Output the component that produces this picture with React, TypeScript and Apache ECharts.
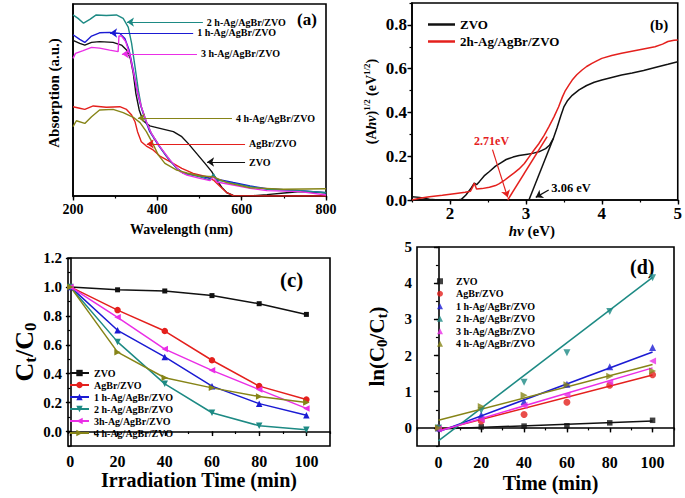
import React, { useEffect, useRef } from 'react';
import * as echarts from 'echarts';

const FONT = '"Liberation Serif", "Times New Roman", serif';
const COLORS = ['#111111', '#e4201d', '#1b1bd3', '#1d8a84', '#ea2ee6', '#868417'];
const SYMBOLS = ['rect', 'circle', 'triangle', 'triangle', 'triangle', 'triangle'];
const SYMBOL_ROT = [0, 0, 0, 180, 90, -90];

// ---------- Panel (a): UV-vis absorption ----------
const aLabels = ['ZVO', 'AgBr/ZVO', '1 h-Ag/AgBr/ZVO', '2 h-Ag/AgBr/ZVO', '3 h-Ag/AgBr/ZVO', '4 h-Ag/AgBr/ZVO'];
const aZVO = [[200,0.81],[216,0.795],[228,0.786],[244,0.8],[263,0.804],[295,0.8],[315,0.786],[327,0.76],[336,0.717],[343,0.639],[349,0.535],[357,0.448],[366,0.392],[382,0.365],[406,0.352],[438,0.335],[458,0.309],[473,0.274],[493,0.222],[513,0.17],[529,0.127],[541,0.083],[553,0.045],[565,0.017],[580,0.003],[620,0],[660,0.007],[707,0.017],[739,0.023],[800,0.017]];
const aAgBr = [[200,0.465],[216,0.457],[228,0.451],[248,0.469],[279,0.462],[311,0.465],[327,0.451],[339,0.422],[347,0.387],[353,0.335],[362,0.283],[374,0.26],[390,0.24],[406,0.208],[430,0.179],[458,0.144],[485,0.118],[517,0.1],[533,0.083],[549,0.049],[565,0.017],[580,0.002],[660,0],[800,0]];
const a1h = [[200,0.84],[216,0.816],[228,0.8],[244,0.833],[263,0.85],[287,0.852],[311,0.847],[323,0.82],[333,0.76],[343,0.656],[351,0.56],[359,0.483],[370,0.405],[382,0.335],[402,0.266],[422,0.205],[446,0.144],[462,0.12],[501,0.104],[525,0.092],[533,0.108],[541,0.088],[580,0.07],[620,0.052],[660,0.038],[739,0.028],[800,0.017]];
const a2h = [[200,0.943],[212,0.925],[225,0.9],[240,0.92],[255,0.943],[279,0.94],[303,0.943],[319,0.925],[331,0.88],[339,0.795],[347,0.674],[355,0.55],[362,0.465],[374,0.387],[386,0.326],[406,0.257],[426,0.196],[446,0.144],[462,0.118],[501,0.1],[525,0.083],[533,0.115],[541,0.083],[580,0.066],[620,0.049],[660,0.035],[739,0.028],[800,0.017]];
const a3h = [[200,0.717],[206,0.743],[224,0.757],[244,0.774],[263,0.77],[287,0.76],[307,0.752],[309,0.833],[315,0.833],[325,0.804],[335,0.734],[343,0.648],[353,0.543],[362,0.465],[374,0.387],[386,0.326],[406,0.257],[430,0.188],[454,0.127],[470,0.109],[501,0.092],[525,0.08],[533,0.1],[541,0.073],[580,0.057],[620,0.04],[660,0.028],[739,0.023],[800,0.005]];
const a4h = [[200,0.361],[208,0.392],[228,0.378],[244,0.413],[263,0.448],[295,0.451],[319,0.434],[343,0.41],[359,0.382],[374,0.335],[389,0.274],[402,0.214],[418,0.17],[446,0.135],[470,0.12],[501,0.104],[533,0.1],[565,0.07],[620,0.043],[699,0.035],[800,0.038]];
const aData = [aZVO, aAgBr, a1h, a2h, a3h, a4h];
// annotation arrows: tip on the curve, tail next to the label
const aArrowTip = [[518,0.177],[375,0.271],[288,0.849],[328,0.906],[316,0.74],[354,0.406]];
const aArrowTail = [[608,0.177],[608,0.271],[485,0.849],[508,0.906],[494,0.74],[577,0.406]];

// ---------- Panel (b): Tauc plot ----------
const bLabels = ['ZVO', '2h-Ag/AgBr/ZVO'];
const bZVO = [[1.5,0.015],[1.6,0.012],[1.73,0.004],[1.85,0],[2.1,0],[2.15,0.003],[2.21,0.023],[2.27,0.05],[2.32,0.077],[2.35,0.07],[2.39,0.085],[2.45,0.11],[2.52,0.13],[2.6,0.155],[2.67,0.17],[2.74,0.185],[2.83,0.196],[2.91,0.203],[3.0,0.208],[3.09,0.213],[3.17,0.22],[3.26,0.235],[3.31,0.25],[3.36,0.28],[3.41,0.33],[3.46,0.385],[3.5,0.425],[3.55,0.455],[3.61,0.478],[3.7,0.503],[3.8,0.523],[3.9,0.538],[4.0,0.548],[4.13,0.56],[4.26,0.571],[4.4,0.58],[4.55,0.592],[4.74,0.609],[4.87,0.62],[5.0,0.632]];
const bAg = [[1.5,0],[1.6,0.008],[1.73,0.015],[1.9,0.022],[2.08,0.03],[2.2,0.035],[2.27,0.04],[2.3,0.06],[2.32,0.077],[2.35,0.05],[2.42,0.052],[2.52,0.058],[2.6,0.066],[2.65,0.075],[2.71,0.088],[2.78,0.107],[2.85,0.125],[2.91,0.142],[2.98,0.167],[3.04,0.196],[3.1,0.225],[3.17,0.257],[3.24,0.295],[3.3,0.333],[3.37,0.38],[3.43,0.425],[3.48,0.47],[3.52,0.5],[3.57,0.527],[3.61,0.548],[3.67,0.572],[3.74,0.594],[3.8,0.61],[3.87,0.624],[3.94,0.637],[4.0,0.647],[4.13,0.66],[4.26,0.67],[4.48,0.685],[4.7,0.7],[4.8,0.712],[4.87,0.724],[4.95,0.73],[5.0,0.731]];
const bTangentZVO = [[3.04,0],[3.36,0.28]];
const bTangentAg = [[2.76,0],[3.28,0.29]];
const bArrowZVO = [[3.3,0.046],[3.13,0.012]];
const bArrowAg = [[2.56,0.23],[2.76,0.012]];
const bGapLabels = ['3.06 eV', '2.71eV'];

// ---------- Panel (c): degradation ----------
const times = [0, 20, 40, 60, 80, 100];
const cLabels = ['ZVO', 'AgBr/ZVO', '1 h-Ag/AgBr/ZVO', '2 h-Ag/AgBr/ZVO', '3h-Ag/AgBr/ZVO', '4 h-Ag/AgBr/ZVO'];
const cZVO = [1.0, 0.98, 0.972, 0.94, 0.884, 0.81];
const cAgBr = [1.0, 0.84, 0.695, 0.493, 0.314, 0.221];
const c1h = [1.0, 0.70, 0.516, 0.314, 0.193, 0.112];
const c2h = [1.0, 0.62, 0.33, 0.13, 0.04, 0.012];
const c3h = [1.0, 0.79, 0.57, 0.423, 0.29, 0.16];
const c4h = [1.0, 0.549, 0.372, 0.302, 0.242, 0.2];
const cData = [cZVO, cAgBr, c1h, c2h, c3h, c4h];

// ---------- Panel (d): kinetics ----------
const dLabels = ['ZVO', 'AgBr/ZVO', '1 h-Ag/AgBr/ZVO', '2 h-Ag/AgBr/ZVO', '3 h-Ag/AgBr/ZVO', '4 h-Ag/AgBr/ZVO'];
const dZVO = [0, 0.03, 0.05, 0.06, 0.14, 0.21];
const dAgBr = [0, 0.19, 0.37, 0.71, 1.18, 1.47];
const d1h = [0, 0.36, 0.73, 1.21, 1.69, 2.22];
const d2h = [0, 0.48, 1.26, 2.08, 3.22, 4.15];
const d3h = [-0.03, 0.23, 0.62, 0.91, 1.26, 1.85];
const d4h = [0, 0.59, 0.9, 1.19, 1.43, 1.57];
const dData = [dZVO, dAgBr, d1h, d2h, d3h, d4h];
const dFitStart = [-0.03, -0.07, -0.11, -0.36, -0.09, 0.21];
const dFitEnd = [0.19, 1.46, 2.1, 4.16, 1.66, 1.75];

const txt = (size: number, extra: any = {}) => ({
  color: '#000', fontFamily: FONT, fontWeight: 'bold', fontSize: size, ...extra,
});
const AXIS_LINE = { show: true, lineStyle: { color: '#000', width: 1.6 } };
const MAJOR_TICK = { show: true, inside: false, length: 4.5, lineStyle: { color: '#000', width: 1.4 } };
const MINOR_TICK = { show: true, inside: false, length: 2.5, lineStyle: { color: '#000', width: 1.2 } };
const NO_SPLIT = { show: false };

function minorAxis(gridIndex: number, position: string, range: any) {
  return {
    type: 'value', gridIndex, position, ...range,
    axisLine: { show: false }, axisTick: MINOR_TICK, axisLabel: { show: false },
    splitLine: NO_SPLIT, silent: true,
  };
}

function buildOption() {
  const grids = [
    { left: 73, top: 4, width: 253, height: 192 },
    { left: 412, top: 3, width: 268, height: 197 },
    { left: 68, top: 258, width: 262, height: 188 },
    { left: 417, top: 247, width: 257, height: 199 },
  ].map((g) => ({ ...g, show: true, borderColor: '#000', borderWidth: 1.6, backgroundColor: 'transparent' }));

  const xAxis = [
    {
      type: 'value', gridIndex: 0, min: 200, max: 800, interval: 200,
      axisLine: AXIS_LINE, axisTick: MAJOR_TICK, splitLine: NO_SPLIT,
      axisLabel: txt(14, { margin: 6 }),
      name: 'Wavelength (nm)', nameLocation: 'middle', nameGap: 26,
      nameTextStyle: txt(14, { padding: [0, 36, 0, 0] }),
    },
    minorAxis(0, 'bottom', { min: 200, max: 800, interval: 100 }),
    {
      type: 'value', gridIndex: 1, min: 1.5, max: 5, splitNumber: 4,
      axisLine: AXIS_LINE, axisTick: MAJOR_TICK, splitLine: NO_SPLIT,
      axisLabel: txt(17, { margin: 5, showMinLabel: false }),
      name: '{i|hv}{b| (eV)}', nameLocation: 'middle', nameGap: 23,
      nameTextStyle: {
        padding: [0, 26, 0, 0],
        rich: { i: txt(15, { fontStyle: 'italic' }), b: txt(15) },
      },
    },
    minorAxis(1, 'bottom', { min: 1.5, max: 5, interval: 0.5 }),
    {
      type: 'value', gridIndex: 2, min: -1, max: 110, splitNumber: 5,
      axisLine: AXIS_LINE, axisTick: MAJOR_TICK, splitLine: NO_SPLIT,
      axisLabel: txt(16, { margin: 7, showMinLabel: false, showMaxLabel: false }),
      name: 'Irradiation Time (min)', nameLocation: 'middle', nameGap: 22,
      nameTextStyle: txt(20),
    },
    minorAxis(2, 'bottom', { min: -1, max: 110, splitNumber: 11 }),
    {
      type: 'value', gridIndex: 3, min: -10, max: 110, splitNumber: 5,
      axisLine: AXIS_LINE, axisTick: MAJOR_TICK, splitLine: NO_SPLIT,
      axisLabel: txt(16, { margin: 8, showMinLabel: false, showMaxLabel: false }),
      name: 'Time (min)', nameLocation: 'middle', nameGap: 27,
      nameTextStyle: txt(20, { padding: [0, 0, 0, 10] }),
    },
    minorAxis(3, 'bottom', { min: -10, max: 110, interval: 10 }),
  ];

  const yAxis = [
    {
      type: 'value', gridIndex: 0, min: 0, max: 1,
      axisLine: AXIS_LINE, axisTick: { show: false }, axisLabel: { show: false }, splitLine: NO_SPLIT,
      name: 'Absorption (a.u.)', nameLocation: 'middle', nameGap: 12,
      nameTextStyle: txt(15, { padding: [0, 0, 0, 14] }),
    },
    {
      type: 'value', gridIndex: 1, min: 0, max: 0.9, interval: 0.2,
      axisLine: AXIS_LINE, axisTick: MAJOR_TICK, splitLine: NO_SPLIT,
      axisLabel: txt(17, { margin: 5, showMaxLabel: false, formatter: (v: number) => v.toFixed(1) }),
      name: '{b|(A}{i|hv}{b|)}{p|1/2}{b| (eV}{p|1/2}{b|)}', nameLocation: 'middle', nameGap: 32,
      nameTextStyle: {
        rich: {
          b: txt(14), i: txt(14, { fontStyle: 'italic' }),
          p: txt(9, { padding: [0, 0, 9, 0] }),
        },
      },
    },
    minorAxis(1, 'left', { min: 0, max: 0.9, interval: 0.1 }),
    {
      type: 'value', gridIndex: 2, min: -0.1, max: 1.2, splitNumber: 6,
      axisLine: AXIS_LINE, axisTick: MAJOR_TICK, splitLine: NO_SPLIT,
      axisLabel: txt(15, { margin: 6, showMinLabel: false, formatter: (v: number) => v.toFixed(1) }),
      name: '{b|C}{s|t}{b|/C}{s|0}', nameLocation: 'middle', nameGap: 29,
      nameTextStyle: {
        rich: { b: txt(26), s: txt(17, { padding: [12, 0, 0, 0] }) },
      },
    },
    minorAxis(2, 'left', { min: -0.1, max: 1.2, interval: 0.1 }),
    {
      type: 'value', gridIndex: 3, min: -0.5, max: 5, splitNumber: 5,
      axisLine: AXIS_LINE, axisTick: MAJOR_TICK, splitLine: NO_SPLIT,
      axisLabel: txt(15, { margin: 5, showMinLabel: false }),
      name: '{b|ln(C}{s|0}{b|/C}{s|t}{b|)}', nameLocation: 'middle', nameGap: 28,
      nameTextStyle: {
        rich: { b: txt(21), s: txt(15, { padding: [10, 0, 0, 0] }) },
      },
    },
    minorAxis(3, 'left', { min: -0.5, max: 5, interval: 0.5 }),
  ];

  const series: any[] = [];

  // (a)
  aData.forEach((d, i) => {
    series.push({
      type: 'line', name: 'a:' + aLabels[i], xAxisIndex: 0, yAxisIndex: 0,
      data: d, symbol: 'none', silent: true,
      lineStyle: { color: COLORS[i], width: 1.4 },
      markLine: {
        silent: true, symbol: ['arrow', 'none'], symbolSize: 7,
        lineStyle: { color: COLORS[i], width: 1.2, type: 'solid' },
        label: { show: true, position: 'end', formatter: aLabels[i], distance: 4, ...txt(10) },
        data: [[{ coord: aArrowTip[i] }, { coord: aArrowTail[i] }]],
      },
    });
  });

  // (b)
  const bSets = [
    { data: bZVO, color: COLORS[0], tangent: bTangentZVO, arrow: bArrowZVO, lbl: bGapLabels[0], lc: '#000', fs: 12.5 },
    { data: bAg, color: COLORS[1], tangent: bTangentAg, arrow: bArrowAg, lbl: bGapLabels[1], lc: COLORS[1], fs: 12 },
  ];
  bSets.forEach((s, i) => {
    series.push({
      type: 'line', name: 'b:' + bLabels[i], xAxisIndex: 2, yAxisIndex: 1,
      data: s.data, symbol: 'none', silent: true,
      lineStyle: { color: s.color, width: 1.5 },
      itemStyle: { color: s.color },
      markLine: {
        silent: true, symbol: 'none', symbolSize: 7,
        lineStyle: { color: s.color, width: 1.5, type: 'solid' },
        label: { show: false },
        data: [
          [{ coord: s.tangent[0] }, { coord: s.tangent[1] }],
          [
            {
              coord: s.arrow[0], symbol: 'none',
              lineStyle: { color: s.color, width: 1.2, type: 'solid' },
              label: { show: true, position: 'start', formatter: s.lbl, distance: 3, ...txt(s.fs, { color: s.lc }) },
            },
            { coord: s.arrow[1], symbol: 'arrow', symbolSize: 7 },
          ],
        ],
      },
    });
  });

  // (c)
  cData.forEach((vals, i) => {
    series.push({
      type: 'line', name: 'c:' + cLabels[i], xAxisIndex: 4, yAxisIndex: 3,
      data: times.map((t, j) => [t, vals[j]]),
      symbol: SYMBOLS[i], symbolRotate: SYMBOL_ROT[i], symbolSize: i === 0 ? 5 : 6.5,
      showAllSymbol: true, silent: true,
      lineStyle: { color: COLORS[i], width: 1.5 },
      itemStyle: { color: COLORS[i] },
    });
  });

  // (d) fits
  dData.forEach((_, i) => {
    series.push({
      type: 'line', name: 'fit' + i, xAxisIndex: 6, yAxisIndex: 5,
      data: [[times[0], dFitStart[i]], [times[times.length - 1], dFitEnd[i]]],
      symbol: 'none', silent: true,
      lineStyle: { color: COLORS[i], width: 1.5 },
    });
  });
  dData.forEach((vals, i) => {
    series.push({
      type: 'scatter', name: 'd:' + dLabels[i], xAxisIndex: 6, yAxisIndex: 5,
      data: times.map((t, j) => [t, vals[j]]),
      symbol: SYMBOLS[i], symbolRotate: SYMBOL_ROT[i], symbolSize: i === 0 ? 5.5 : 7,
      silent: true, itemStyle: { color: COLORS[i] }, z: 3,
    });
  });

  const strip = (n: string) => n.slice(2);
  const legend = [
    {
      orient: 'vertical', left: 428, top: 17, itemWidth: 27, itemHeight: 2.5, itemGap: 2, padding: 0,
      selectedMode: false, data: bLabels.map((l) => ({ name: 'b:' + l, icon: 'rect' })), formatter: strip,
      textStyle: txt(13, { lineHeight: 15 }),
    },
    {
      orient: 'vertical', left: 69, top: 367, itemWidth: 19, itemHeight: 8, itemGap: 0, padding: 0,
      selectedMode: false, data: cLabels.map((l) => 'c:' + l), formatter: strip,
      textStyle: txt(10, { lineHeight: 12 }),
    },
    {
      orient: 'vertical', left: 437, top: 275, itemWidth: 6, itemHeight: 6, itemGap: 0, padding: 0,
      selectedMode: false, data: dLabels.map((l) => 'd:' + l), formatter: strip,
      textStyle: txt(10, { lineHeight: 12.5, padding: [0, 0, 0, 8] }),
    },
  ];

  const panelLabel = (t: string, left: number, top: number, size: number) => ({
    type: 'text', left, top, silent: true,
    style: { text: t, fill: '#000', fontFamily: FONT, fontWeight: 'bold', fontSize: size },
  });

  return {
    animation: false,
    backgroundColor: '#fff',
    textStyle: { fontFamily: FONT },
    grid: grids,
    xAxis, yAxis, series, legend,
    graphic: [
      panelLabel('(a)', 297, 11, 17),
      panelLabel('(b)', 650, 17, 15),
      panelLabel('(c)', 280, 269, 21),
      panelLabel('(d)', 630, 257, 20),
    ],
  };
}

export default function App() {
  const ref = useRef<HTMLDivElement>(null);
  useEffect(() => {
    if (!ref.current) return;
    const chart = echarts.init(ref.current, null, { renderer: 'svg' });
    chart.setOption(buildOption() as any);
    return () => chart.dispose();
  }, []);
  return (
    <div
      ref={ref}
      style={{ position: 'absolute', left: 0, top: 0, width: 685, height: 498, background: '#fff' }}
    />
  );
}
